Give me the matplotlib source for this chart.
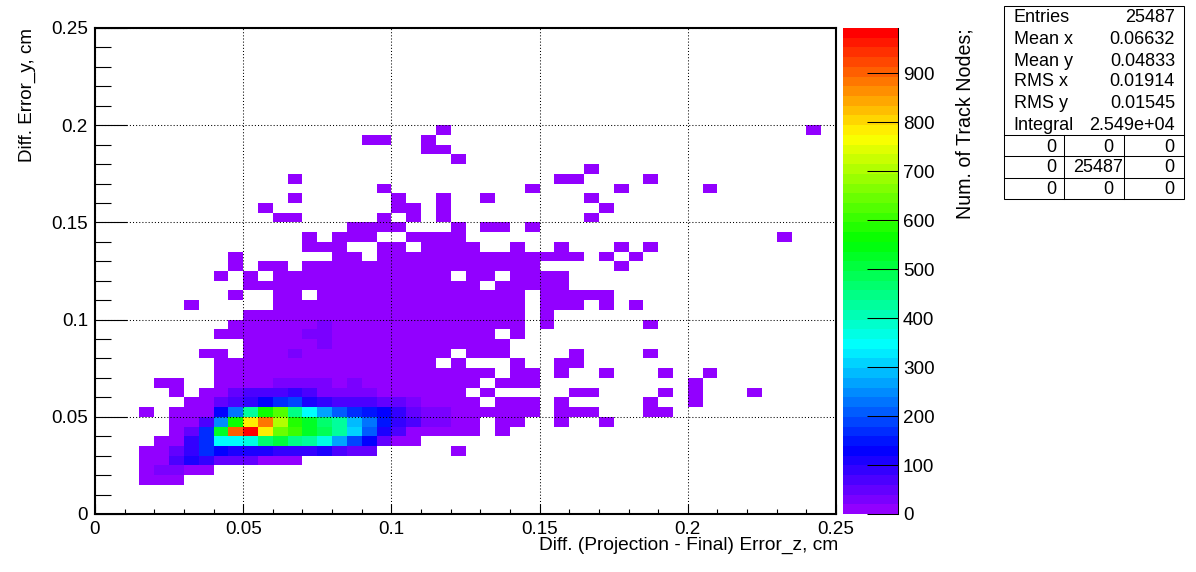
import numpy as np
import matplotlib
matplotlib.use("Agg")
import matplotlib.pyplot as plt
from matplotlib.colors import ListedColormap, Normalize, hsv_to_rgb
from matplotlib.lines import Line2D
from matplotlib.patches import Rectangle

plt.rcParams['font.family'] = ['Liberation Sans', 'DejaVu Sans']

# Histogram binning (50 x 50 bins, 0..0.25 on each axis)
n_bins = 50
axis_max = 0.25
z_max = 992

# Occupied bins with the lowest counts: row index -> inclusive column spans
low_spans = {
    3: [(3, 5)], 4: [(3, 7)], 5: [(3, 13)], 6: [(3, 18), (24, 24)], 7: [(4, 21)],
    8: [(5, 25), (27, 27)], 9: [(5, 25), (27, 28), (31, 31), (34, 34)],
    10: [(3, 3), (5, 29), (31, 33), (37, 38)],
    11: [(6, 25), (27, 29), (31, 31), (37, 37), (40, 40)],
    12: [(5, 5), (7, 24), (26, 26), (32, 33), (38, 38), (40, 40), (44, 44)],
    13: [(4, 5), (8, 25), (27, 29), (40, 40)],
    14: [(8, 26), (28, 29), (31, 31), (34, 34), (38, 38), (41, 41)],
    15: [(8, 22), (24, 24), (28, 28), (31, 32)],
    16: [(7, 8), (10, 23), (25, 27), (32, 32), (37, 37)],
    17: [(10, 27)], 18: [(8, 26), (28, 28)], 19: [(9, 28), (30, 30), (37, 37)],
    20: [(10, 28), (30, 30)],
    21: [(6, 6), (12, 28), (30, 32), (34, 34), (36, 36)],
    22: [(9, 9), (12, 13), (15, 28), (30, 34)],
    23: [(10, 25), (27, 31)],
    24: [(8, 8), (10, 10), (12, 23), (25, 26), (28, 31)],
    25: [(9, 9), (11, 12), (14, 29), (35, 35)],
    26: [(9, 9), (16, 17), (19, 32), (34, 34), (36, 36)],
    27: [(14, 16), (19, 20), (22, 25), (28, 28), (31, 31), (35, 35), (37, 37)],
    28: [(14, 14), (16, 18), (21, 24), (46, 46)],
    29: [(17, 20), (24, 24), (26, 27), (29, 29)],
    30: [(12, 13), (19, 19), (21, 21), (23, 23), (33, 33)],
    31: [(11, 11), (20, 21), (23, 23), (34, 34)],
    32: [(13, 13), (20, 20), (23, 23), (26, 26), (33, 33)],
    33: [(19, 19), (29, 29), (35, 35), (41, 41)],
    34: [(13, 13), (31, 32), (37, 37)],
    35: [(33, 33)], 36: [(24, 24)], 37: [(22, 23)], 38: [(18, 19), (22, 22)],
    39: [(23, 23), (48, 48)],
}
low_count = 8

# Core of the distribution: row index -> (first column, counts)
core_rows = {
    4: (4, [30, 30]),
    5: (5, [75, 100, 80, 40, 40, 40]),
    6: (5, [40, 90, 175, 125, 115, 115, 100, 95, 95, 95, 100, 75, 40, 40]),
    7: (6, [80, 175, 340, 340, 370, 460, 500, 450, 420, 370, 270, 190, 125, 40]),
    8: (6, [40, 175, 530, 900, 990, 790, 640, 600, 530, 480, 430, 310, 210, 110, 60]),
    9: (7, [70, 240, 560, 790, 880, 700, 590, 520, 470, 430, 280, 230, 150, 90, 60, 30, 30]),
    10: (8, [120, 230, 430, 560, 620, 440, 340, 260, 200, 170, 140, 120, 90, 50, 30, 30]),
    11: (8, [40, 60, 90, 130, 170, 190, 115, 90, 75, 60, 60, 40, 40, 30]),
    12: (9, [40, 60, 60, 70, 85, 75, 30, 30, 30, 30]),
    13: (12, [30, 30, 30, 30, 10, 30]),
    16: (13, [30]),
    17: (15, [30]),
    18: (14, [30, 30]),
    19: (15, [30]),
}

# Axis ticks
x_major = [0, 0.05, 0.1, 0.15, 0.2, 0.25]
x_minor = [0.01, 0.02, 0.03, 0.04, 0.06, 0.07, 0.08, 0.09, 0.11, 0.12, 0.13, 0.14,
           0.16, 0.17, 0.18, 0.19, 0.21, 0.22, 0.23, 0.24]
y_major = x_major
y_minor = x_minor
tick_labels = ['0', '0.05', '0.1', '0.15', '0.2', '0.25']
z_ticks = [0, 100, 200, 300, 400, 500, 600, 700, 800, 900]

x_title = 'Diff. (Projection - Final) Error_z, cm'
y_title = 'Diff. Error_y, cm'
z_title = 'Num. of Track Nodes;'

stats_names = ['Entries', 'Mean x', 'Mean y', 'RMS x', 'RMS y', 'Integral']
stats_values = ['25487', '0.06632', '0.04833', '0.01914', '0.01545', '2.549e+04']
overflow_table = [['0', '0', '0'], ['0', '25487', '0'], ['0', '0', '0']]

# ROOT "SetPalette(1)" rainbow
hues = [(280 - (k + 1) * 5.6) / 360 for k in range(50)]
palette = ListedColormap(hsv_to_rgb([[h, 1, 1] for h in hues]))
palette.set_bad((1, 1, 1, 0))
norm = Normalize(0, z_max)

counts = np.full((n_bins, n_bins), np.nan)
for row, spans in low_spans.items():
    for a, b in spans:
        counts[row, a:b + 1] = low_count
for row, (first, vals) in core_rows.items():
    counts[row, first:first + len(vals)] = vals

W, H = 1196, 572
FS = 13.6
fig = plt.figure(figsize=(W / 100, H / 100), dpi=100)


def rect(l, t, r, b):
    return [l / W, 1 - b / H, (r - l) / W, (b - t) / H]


ax = fig.add_axes(rect(95, 28, 836, 514))
edges = np.linspace(0, axis_max, n_bins + 1)
ax.pcolormesh(edges, edges, np.ma.masked_invalid(counts), cmap=palette, norm=norm,
              linewidth=0, antialiased=False, rasterized=False, zorder=1)
ax.set_xlim(0, axis_max)
ax.set_ylim(0, axis_max)
ax.set_xticks(x_major, tick_labels)
ax.set_yticks(y_major, tick_labels)
ax.set_xticks(x_minor, minor=True)
ax.set_yticks(y_minor, minor=True)
ax.tick_params(axis='x', which='major', direction='in', length=7.2, width=0.8,
               labelsize=FS, pad=5, color='k')
ax.tick_params(axis='x', which='minor', direction='in', length=3.6, width=0.8)
ax.tick_params(axis='y', which='major', direction='in', length=23, width=0.8,
               labelsize=FS, pad=5)
ax.tick_params(axis='y', which='minor', direction='in', length=11.5, width=0.8)
ax.grid(True, which='major', color='k', linewidth=0.75, linestyle=(0, (1, 2)), zorder=3)
ax.set_axisbelow(False)
for s in ax.spines.values():
    s.set_linewidth(1.5)

# Palette bar
cax = fig.add_axes(rect(843, 28, 897.5, 514))
levels = np.linspace(0, z_max, 51)
cax.pcolormesh([0, 1], levels, (levels[:-1] + z_max / 100).reshape(-1, 1), cmap=palette,
               norm=norm, linewidth=0, antialiased=False)
cax.set_ylim(0, z_max)
cax.set_xlim(0, 1)
cax.set_xticks([])
cax.yaxis.tick_right()
cax.set_yticks(z_ticks, [str(t) for t in z_ticks])
cax.tick_params(axis='y', direction='in', length=22.5, width=0.75, labelsize=FS, pad=4)
for s in cax.spines.values():
    s.set_visible(False)
cax.spines['right'].set_visible(True)
cax.spines['right'].set_linewidth(0.75)

# Overlay in pixel coordinates for titles and stats box
ov = fig.add_axes([0, 0, 1, 1], facecolor='none')
ov.set_xlim(0, W)
ov.set_ylim(H, 0)
ov.axis('off')
ov.text(838, 545, x_title, ha='right', va='center', fontsize=13.75)
ov.text(27, 28, y_title, ha='center', va='top', rotation=90, fontsize=FS)
ov.text(965, 28, z_title, ha='center', va='top', rotation=90, fontsize=14.1)

ov.add_patch(Rectangle((1003.5, 5.5), 180, 193, fc='white', ec='k', lw=0.75))
row_y = [18, 39, 61, 82, 103, 125]
for y, name, value in zip(row_y, stats_names, stats_values):
    ov.text(1013.5, y, name, ha='left', va='center', fontsize=13)
    ov.text(1175, y, value, ha='right', va='center', fontsize=13)
for y in (134.5, 155.5, 177.5):
    ov.add_line(Line2D([1003.5, 1183.5], [y, y], color='k', lw=0.75))
for x in (1063.5, 1123.5):
    ov.add_line(Line2D([x, x], [134.5, 198.5], color='k', lw=0.75))
col_x = [1051, 1108, 1169]
for y, row in zip([147, 168, 190], overflow_table):
    for x, s in zip(col_x, row):
        xx = 1098 if s == '25487' else x
        ov.text(xx, y, s, ha='center', va='center', fontsize=13)

fig.savefig('out.png', dpi=100)
